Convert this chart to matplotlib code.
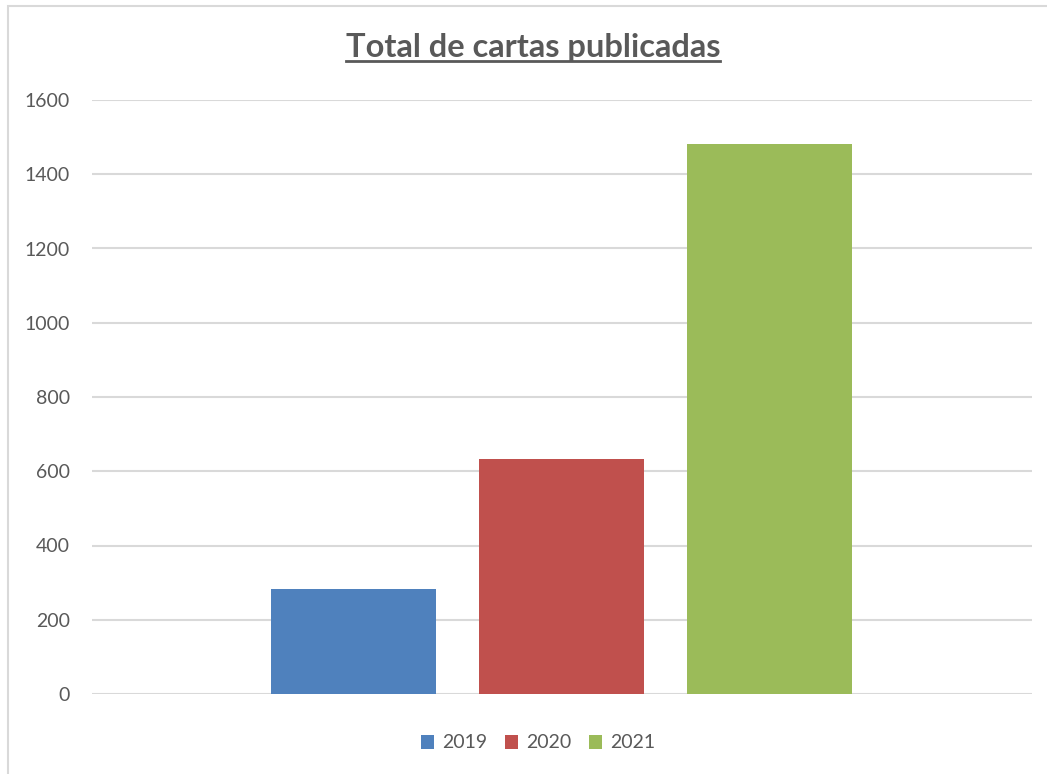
import matplotlib.pyplot as plt
from matplotlib.patches import Rectangle
from matplotlib.lines import Line2D

# ── data ──────────────────────────────────
years  = ["2019", "2020", "2021"]
values = [283, 633, 1481]
colors = ["#4F81BD", "#C0504D", "#9BBB59"]
yticks = [0, 200, 400, 600, 800, 1000, 1200, 1400, 1600]

TEXT = "#595959"
GRID = "#D9D9D9"
plt.rcParams["font.family"] = ["Lato", "DejaVu Sans"]

fig = plt.figure(figsize=(10.47, 7.74), dpi=100)
W, H = 1047, 774

# chart frame (right/bottom edges are cropped off in the reference)
fig.patches.append(Rectangle((8 / W, -0.05), 1.1, 1 - 6 / H + 0.05,
                             transform=fig.transFigure, fill=False,
                             edgecolor=GRID, lw=1.5))

ax = fig.add_axes([92 / W, 80 / H, 940 / W, 594 / H])
for i, (yr, v, c) in enumerate(zip(years, values, colors)):
    ax.bar(i, v, width=0.793, color=c, label=yr, zorder=3)

ax.set_xlim(-1.257, 3.262)
ax.set_ylim(0, 1600)
ax.set_yticks(yticks)
ax.set_xticks([])
ax.yaxis.grid(True, color=GRID, lw=1.5, zorder=0)
ax.tick_params(axis="y", length=0, pad=16, labelsize=14, labelcolor=TEXT)
for s in ax.spines.values():
    s.set_visible(False)

# title with underline
title = fig.text(533 / W, 1 - 48 / H, "Total de cartas publicadas",
                 ha="center", va="center", fontsize=23.5, fontweight="bold",
                 color=TEXT)
fig.canvas.draw()
bb = title.get_window_extent(fig.canvas.get_renderer())
uy = (bb.y0 + 2) / H
fig.lines.append(Line2D([bb.x0 / W, bb.x1 / W], [uy, uy],
                        transform=fig.transFigure, color=TEXT, lw=2))

fig.legend(loc="center", bbox_to_anchor=(538 / W, 1 - 743 / H), ncol=3,
           frameon=False, fontsize=14, labelcolor=TEXT,
           handlelength=0.7, handleheight=0.7, handletextpad=0.4,
           columnspacing=0.9)

fig.savefig("out.png", dpi=100)
